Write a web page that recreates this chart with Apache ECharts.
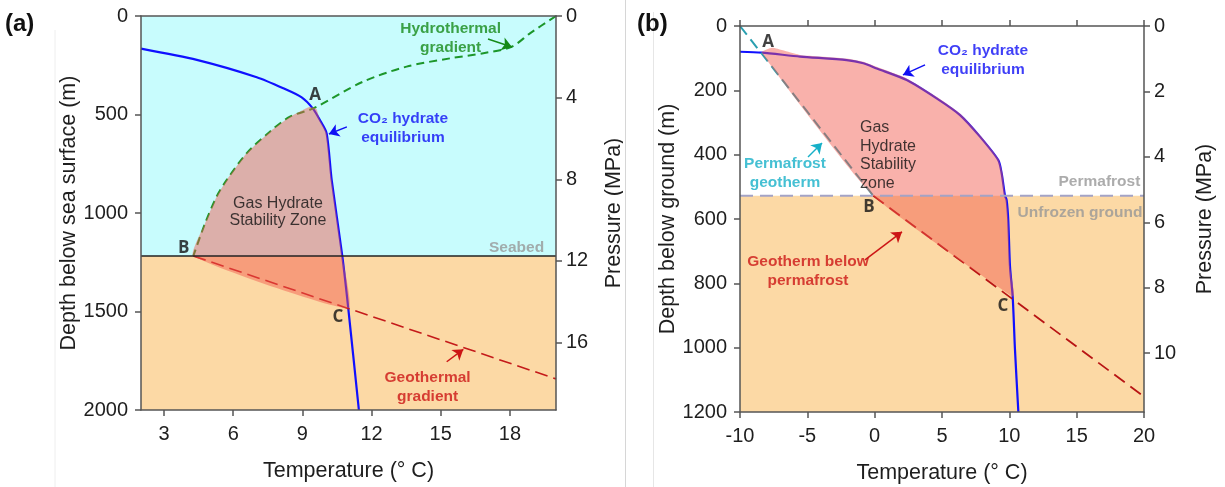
<!DOCTYPE html>
<html>
<head>
<meta charset="utf-8">
<script src="https://cdn.jsdelivr.net/npm/echarts@6/dist/echarts.min.js"></script>
<style>
html,body{margin:0;padding:0;background:#fff;}
#chart{width:1225px;height:487px;}
</style>
</head>
<body>
<div id="chart"></div>
<script>
// ---------- Panel (a) data ----------
const tempTicksA = [3, 6, 9, 12, 15, 18];
const pressureTicksA = [0, 4, 8, 12, 16];
const pressureMaxA = 19.3;
const seabedDepthA = 1218;
const co2EquilA = [[2, 166], [4.42, 223], [7.02, 311], [8.17, 367], [8.97, 413], [9.45, 469], [9.76, 528], [10.05, 595], [10.27, 832], [10.73, 1218], [10.99, 1484], [11.45, 2000]];
const hydrothermalA = [[20, 0], [18.87, 88], [18.08, 156], [16.85, 189], [15.4, 215], [13.52, 257], [11.64, 333], [9.47, 469], [8.46, 511], [7.59, 587], [6.58, 697], [5.72, 832], [5.28, 917], [4.78, 1052], [4.27, 1218]];
const geothermalA = [[4.27, 1218], [20, 1842]];
const zoneA = [[9.3, 462], [9.6, 470], [9.76, 528], [10.05, 595], [10.27, 832], [10.73, 1218], [10.99, 1484], [4.27, 1218], [4.78, 1052], [5.28, 917], [5.72, 832], [6.58, 697], [7.59, 587], [8.46, 511], [9.0, 478]];

// ---------- Panel (b) data ----------
const pressureTicksB = [0, 2, 4, 6, 8, 10];
const pressureMaxB = 11.8;
const permafrostDepthB = 528;
const co2EquilB = [[-10, 80], [-8.39, 83], [-5.54, 95], [-2.08, 106], [-0.84, 116], [0.15, 132], [2.38, 168], [4.6, 225], [6.34, 277], [7.82, 344], [9.18, 417], [9.43, 458], [9.68, 528], [9.8, 541], [9.92, 603], [10.05, 748], [10.25, 842], [10.42, 1007], [10.67, 1200]];
const permafrostGeothermB = [[-10, 0], [-0.1, 528]];
const geothermBelowB = [[-0.1, 528], [20, 1152]];
const zoneB = [[-8.39, 83], [-7.6, 68], [-5.54, 90], [-2.08, 101], [-0.84, 111], [0.15, 127], [2.38, 163], [4.6, 220], [6.34, 272], [7.82, 339], [9.18, 412], [9.5, 458], [9.68, 528], [9.8, 541], [9.92, 603], [10.05, 748], [10.35, 830], [10.25, 842], [-0.1, 528]];

// ---------- annotations (text, anchor in data units) ----------
const notesA = [
  ['Hydrothermal\ngradient', [15.43, 112], 'green'],
  ['A', [9.55, 404], 'point'],
  ['CO\u2082 hydrate\nequilibrium', [13.36, 572], 'blue'],
  ['Gas Hydrate\nStability Zone', [7.94, 995], 'zone'],
  ['Seabed', [18.29, 1176], 'gray'],
  ['B', [3.85, 1180], 'point'],
  ['C', [10.54, 1530], 'point'],
  ['Geothermal\ngradient', [14.43, 1883], 'red']
];
const arrowsA = [
  [[17.05, 117], [18.09, 157], 'green'],
  [[10.93, 563], [10.15, 599], 'blue'],
  [[15.26, 1755], [15.98, 1692], 'red']
];
const notesB = [
  ['A', [-7.92, 50], 'point'],
  ['CO\u2082 hydrate\nequilibrium', [8.04, 107], 'blue'],
  ['Gas\nHydrate\nStability\nzone', [-1.09, 403], 'zoneLeft'],
  ['Permafrost\ngeotherm', [-6.66, 457], 'teal'],
  ['Permafrost', [16.69, 485], 'gray'],
  ['Unfrozen ground', [15.25, 581], 'gray'],
  ['B', [-0.42, 563], 'point'],
  ['Geotherm below\npermafrost', [-4.95, 762], 'red'],
  ['C', [9.53, 872], 'point']
];
const arrowsB = [
  [[3.74, 121], [2.1, 152], 'blue'],
  [[-4.95, 407], [-3.91, 364], 'teal'],
  [[-0.72, 727], [2.03, 640], 'red']
];

const COLORS = {
  green: '#168a18', blue: '#0f0ff5', red: '#cc1515', teal: '#16b0c8',
  gray: '#979797', point: '#111', zone: '#111', zoneLeft: '#111'
};
const cyanBg = '#c8fcfd', peachBg = '#fcd9a5';
const zoneFill = 'rgba(242,89,77,0.47)';
const FONT = '"Liberation Sans", Arial, sans-serif';
const axisColor = '#555';
const tickFont = {color: '#1e1e1e', fontSize: 20, fontFamily: FONT, formatter: v => String(v)};

function labelStyle(kind) {
  const base = {show: true, position: 'inside', color: COLORS[kind], fontFamily: FONT, fontSize: 15.5, fontWeight: 'bold', lineHeight: 19};
  if (kind === 'point') { base.fontFamily = '"Open Sans", sans-serif'; base.fontSize = 17; }
  if (kind === 'zone') { base.fontWeight = 'normal'; base.fontSize = 16; base.lineHeight = 17; }
  if (kind === 'zoneLeft') { base.fontWeight = 'normal'; base.fontSize = 16; base.lineHeight = 18.5; base.align = 'left'; }
  return base;
}

function noteSeries(notes, gi) {
  return {
    type: 'scatter', xAxisIndex: gi * 2, yAxisIndex: gi * 2, symbolSize: 1, silent: true, z: 20,
    itemStyle: {color: 'rgba(0,0,0,0)'},
    data: notes.map(n => ({value: n[1], label: Object.assign(labelStyle(n[2]), {formatter: n[0]})}))
  };
}
function arrowSeries(arrows, gi) {
  return arrows.map(a => ({
    type: 'lines', coordinateSystem: 'cartesian2d', xAxisIndex: gi * 2, yAxisIndex: gi * 2, silent: true, z: 20,
    symbol: ['none', 'arrow'], symbolSize: 10,
    lineStyle: {color: COLORS[a[2]], width: 1.5, opacity: 1},
    data: [{coords: [a[0], a[1]]}]
  }));
}
function zoneSeries(poly, gi) {
  return {
    type: 'custom', xAxisIndex: gi * 2, yAxisIndex: gi * 2, silent: true, z: 6,
    data: [poly[0]],
    renderItem: function (params, api) {
      return {type: 'polygon', shape: {points: poly.map(p => api.coord(p)), smooth: 0.15}, style: {fill: zoneFill}};
    }
  };
}

function xAxisCfg(gi, min, max, opts) {
  return Object.assign({
    type: 'value', gridIndex: gi, min: min, max: max, position: 'bottom', z: 10,
    axisLine: {show: true, onZero: false, lineStyle: {color: axisColor, width: 1.5}},
    axisTick: {show: true, length: 6, lineStyle: {color: axisColor, width: 1.5}},
    axisLabel: Object.assign({margin: 14}, tickFont),
    splitLine: {show: false},
    name: 'Temperature (\u00b0 C)', nameLocation: 'middle', nameGap: 50,
    nameTextStyle: {fontSize: 21.5, color: '#1e1e1e', fontFamily: FONT}
  }, opts || {});
}
function topAxisCfg(gi, min, max, opts) {
  return Object.assign({
    type: 'value', gridIndex: gi, min: min, max: max, position: 'top', z: 10,
    axisLine: {show: true, onZero: false, lineStyle: {color: axisColor, width: 1.5}},
    axisTick: {show: false}, axisLabel: {show: false}, splitLine: {show: false}
  }, opts || {});
}
function yAxisCfg(gi, min, max, pos, name, gap, opts) {
  return Object.assign({
    type: 'value', gridIndex: gi, min: min, max: max, inverse: true, position: pos, z: 10,
    axisLine: {show: true, onZero: false, lineStyle: {color: axisColor, width: 1.5}},
    axisTick: {show: true, length: 6, lineStyle: {color: axisColor, width: 1.5}},
    axisLabel: Object.assign({margin: pos === 'left' ? 13 : 10}, tickFont),
    splitLine: {show: false},
    name: name, nameLocation: 'middle', nameGap: gap, nameRotate: 90,
    nameTextStyle: {fontSize: 21.5, color: '#1e1e1e', fontFamily: FONT}
  }, opts || {});
}

const chart = echarts.init(document.getElementById('chart'), null, {renderer: 'canvas'});
const option = {
  animation: false,
  backgroundColor: '#fff',
  textStyle: {fontFamily: FONT},
  grid: [
    {left: 141, top: 16, width: 415, height: 394, outerBoundsMode: 'none', containLabel: false},
    {left: 740, top: 26, width: 404, height: 386, outerBoundsMode: 'none', containLabel: false}
  ],
  xAxis: [
    xAxisCfg(0, 2, 20, {
      axisTick: {show: true, length: 6, customValues: tempTicksA, lineStyle: {color: axisColor, width: 1.5}},
      axisLabel: Object.assign({margin: 14, customValues: tempTicksA}, tickFont)
    }),
    topAxisCfg(0, 2, 20),
    xAxisCfg(1, -10, 20, {interval: 5}),
    topAxisCfg(1, -10, 20, {interval: 5, axisTick: {show: true, length: 6, lineStyle: {color: axisColor, width: 1.5}}})
  ],
  yAxis: [
    yAxisCfg(0, 0, 2000, 'left', 'Depth below sea surface (m)', 58, {interval: 500}),
    yAxisCfg(0, 0, pressureMaxA, 'right', 'Pressure (MPa)', 47, {
      axisTick: {show: true, length: 6, customValues: pressureTicksA, lineStyle: {color: axisColor, width: 1.5}},
      axisLabel: Object.assign({margin: 10, customValues: pressureTicksA}, tickFont)
    }),
    yAxisCfg(1, 0, 1200, 'left', 'Depth below ground (m)', 61, {interval: 200}),
    yAxisCfg(1, 0, pressureMaxB, 'right', 'Pressure (MPa)', 50, {
      axisTick: {show: true, length: 6, customValues: pressureTicksB, lineStyle: {color: axisColor, width: 1.5}},
      axisLabel: Object.assign({margin: 10, customValues: pressureTicksB}, tickFont)
    })
  ],
  graphic: [
    {type: 'line', shape: {x1: 55, y1: 30, x2: 55, y2: 487}, style: {stroke: '#eeeeee', lineWidth: 1}, z: 100},
    {type: 'rect', shape: {x: 623, y: 0, width: 6, height: 487}, style: {fill: '#fff'}, z: 100},
    {type: 'line', shape: {x1: 625.5, y1: 0, x2: 625.5, y2: 487}, style: {stroke: '#d6d6d6', lineWidth: 1}, z: 101},
    {type: 'line', shape: {x1: 653.5, y1: 12, x2: 653.5, y2: 487}, style: {stroke: '#e6e6e6', lineWidth: 1}, z: 101},
    {type: 'text', left: 5, top: 12, style: {text: '(a)', font: 'bold 24px ' + FONT, fill: '#111'}, z: 102},
    {type: 'text', left: 637, top: 12, style: {text: '(b)', font: 'bold 24px ' + FONT, fill: '#111'}, z: 102}
  ],
  series: [
    // ----- panel (a) -----
    {
      type: 'line', xAxisIndex: 0, yAxisIndex: 0, data: [], silent: true, z: 0,
      markArea: {silent: true, data: [
        [{yAxis: 0, itemStyle: {color: cyanBg}}, {yAxis: seabedDepthA}],
        [{yAxis: seabedDepthA, itemStyle: {color: peachBg}}, {yAxis: 2000}]
      ]}
    },
    {type: 'line', xAxisIndex: 0, yAxisIndex: 0, data: co2EquilA, smooth: 0.25, showSymbol: false, silent: true, z: 3,
      lineStyle: {color: '#1010ff', width: 2.2}},
    {type: 'line', xAxisIndex: 0, yAxisIndex: 0, data: hydrothermalA, smooth: 0.3, showSymbol: false, silent: true, z: 3,
      lineStyle: {color: '#1c962a', width: 2, type: [8, 5]}},
    {type: 'line', xAxisIndex: 0, yAxisIndex: 0, data: geothermalA, showSymbol: false, silent: true, z: 3,
      lineStyle: {color: '#c41a1a', width: 1.6, type: [13, 6]}},
    zoneSeries(zoneA, 0),
    {type: 'line', xAxisIndex: 0, yAxisIndex: 0, data: [[2, seabedDepthA], [20, seabedDepthA]], showSymbol: false, silent: true, z: 8,
      lineStyle: {color: '#222', width: 1.5}},
    noteSeries(notesA, 0),
    ...arrowSeries(arrowsA, 0),
    // ----- panel (b) -----
    {
      type: 'line', xAxisIndex: 2, yAxisIndex: 2, data: [], silent: true, z: 0,
      markArea: {silent: true, data: [
        [{yAxis: permafrostDepthB, itemStyle: {color: peachBg}}, {yAxis: 1200}]
      ]}
    },
    {type: 'line', xAxisIndex: 2, yAxisIndex: 2, data: co2EquilB, smooth: 0.25, showSymbol: false, silent: true, z: 3,
      lineStyle: {color: '#1010ff', width: 2.2}},
    {type: 'line', xAxisIndex: 2, yAxisIndex: 2, data: permafrostGeothermB, showSymbol: false, silent: true, z: 3,
      lineStyle: {color: '#2a9fb0', width: 2, type: [11, 6]}},
    {type: 'line', xAxisIndex: 2, yAxisIndex: 2, data: geothermBelowB, showSymbol: false, silent: true, z: 3,
      lineStyle: {color: '#b81414', width: 1.8, type: [13, 7]}},
    zoneSeries(zoneB, 1),
    {type: 'line', xAxisIndex: 2, yAxisIndex: 2, data: [[-10, permafrostDepthB], [20, permafrostDepthB]], showSymbol: false, silent: true, z: 8,
      lineStyle: {color: '#a3a3c6', width: 2, type: [13, 7]}},
    noteSeries(notesB, 1),
    ...arrowSeries(arrowsB, 1)
  ]
};
chart.setOption(option);
</script>
</body>
</html>
